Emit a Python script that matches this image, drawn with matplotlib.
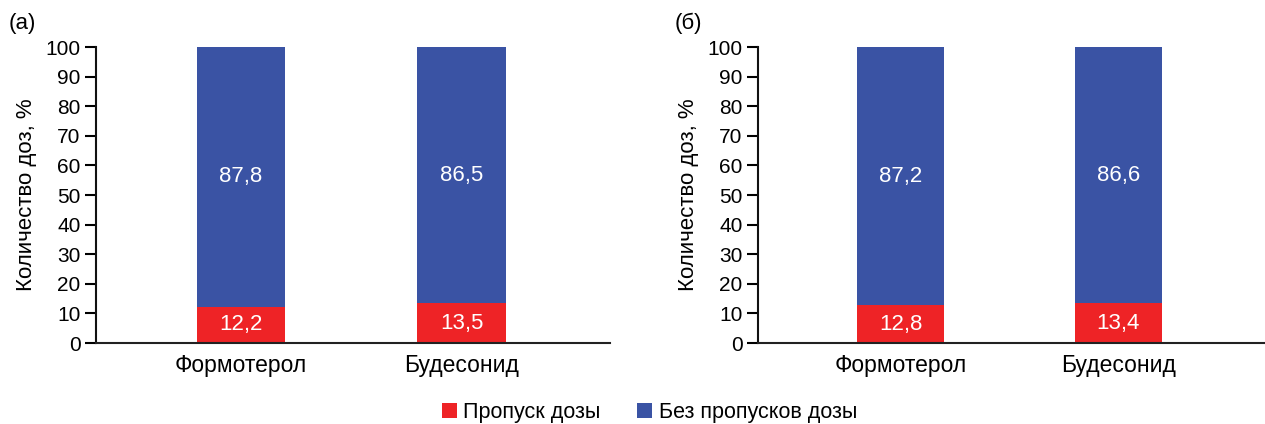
import matplotlib
matplotlib.use("Agg")
import matplotlib.pyplot as plt
from matplotlib.patches import Patch

plt.rcParams['font.family'] = ['Liberation Sans', 'DejaVu Sans']

categories = ["Формотерол", "Будесонид"]
missed_a = [12.2, 13.5]
taken_a = [87.8, 86.5]
missed_b = [12.8, 13.4]
taken_b = [87.2, 86.6]
series_names = ["Пропуск дозы", "Без пропусков дозы"]
panel_labels = ["(а)", "(б)"]
y_label = "Количество доз, %"
y_ticks = list(range(0, 101, 10))

RED = "#EE2326"
BLUE = "#3A53A4"
FS_TICK = 15
FS_VALUE = 16
FS_CAT = 16.5
FS_LABEL = 16
FS_LEGEND = 15.5

fig = plt.figure(figsize=(12.65, 4.24), dpi=100)
ax_a = fig.add_axes([0.0759, 0.191, 0.406, 0.698])
ax_b = fig.add_axes([0.5992, 0.191, 0.400, 0.698])


def draw(ax, missed, taken, label, label_x):
    x = list(range(len(categories)))
    ax.bar(x, missed, width=0.4, color=RED, linewidth=0)
    ax.bar(x, taken, width=0.4, bottom=missed, color=BLUE, linewidth=0)
    for xi, m, t in zip(x, missed, taken):
        ax.text(xi, m / 2, f"{m:.1f}".replace(".", ","), ha="center", va="center",
                color="white", fontsize=FS_VALUE)
        ax.text(xi, m + t / 2, f"{t:.1f}".replace(".", ","), ha="center", va="center",
                color="white", fontsize=FS_VALUE)
    ax.set_xlim(-0.655, 1.67)
    ax.set_ylim(0, 100)
    ax.set_yticks(y_ticks)
    ax.set_xticks(x)
    ax.set_xticklabels(categories, fontsize=FS_CAT)
    ax.tick_params(axis="y", direction="out", length=8, width=1.5, labelsize=FS_TICK, pad=3)
    ax.tick_params(axis="x", length=0, pad=8)
    for s in ("top", "right"):
        ax.spines[s].set_visible(False)
    ax.spines["left"].set_linewidth(1.5)
    ax.spines["bottom"].set_linewidth(1.5)
    ax.spines["left"].set_color("#111111")
    ax.spines["bottom"].set_color("#222222")
    ax.set_ylabel(y_label, fontsize=FS_LABEL, labelpad=6)
    fig.text(label_x, 0.945, label, fontsize=FS_LABEL, ha="left", va="center")


draw(ax_a, missed_a, taken_a, panel_labels[0], 0.007)
draw(ax_b, missed_b, taken_b, panel_labels[1], 0.533)

handles = [Patch(facecolor=RED, edgecolor="none"), Patch(facecolor=BLUE, edgecolor="none")]
fig.legend(handles, series_names, loc="center", bbox_to_anchor=(0.5134, 0.026), ncol=2,
           frameon=False, fontsize=FS_LEGEND, handlelength=0.7, handleheight=0.7,
           handletextpad=0.3, columnspacing=1.7)

fig.savefig("out.png", dpi=100)
